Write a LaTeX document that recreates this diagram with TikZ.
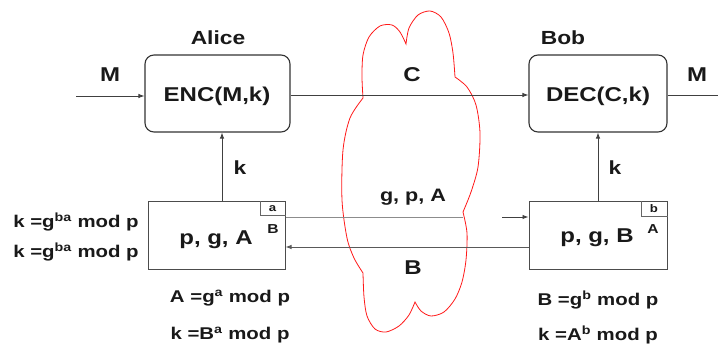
\documentclass[tikz,border=0pt]{standalone}
\usepackage{fontspec}
\setmainfont{Liberation Sans}[FakeStretch=1.2]
\usetikzlibrary{arrows.meta,calc}
\tikzset{
  lbl/.style={font=\bfseries\fontsize{#1}{#1}\selectfont, inner sep=0pt, text=black!90},
  lbl/.default=17,
  procbox/.style={draw=black!80, line width=1.1pt, rounded corners=9pt, minimum width=#1, minimum height=77pt, inner sep=0pt},
  keybox/.style={draw=black!70, line width=1pt, minimum width=#1, minimum height=68pt, inner sep=0pt},
  arr/.style={-{Latex[length=6pt,width=4.5pt]}, line width=0.9pt, draw=black!75},
  plain/.style={line width=0.9pt, draw=black!75},
  cloudline/.style={draw=red!90!white, line width=0.8pt}
}
\begin{document}
\begin{tikzpicture}[x=1pt,y=-1pt]
\useasboundingbox (0,0) rectangle (718,347);

% cloud
\draw[cloudline]
  plot[smooth] coordinates {(363,98) (362,77) (363,55) (369,37) (380,26) (392,25) (400,32) (406,44)}
  -- plot[smooth] coordinates {(406,44) (409,28) (418,15) (430,11) (441,17) (449,33) (453,53) (455,77)}
  -- plot[smooth] coordinates {(455,77) (467,87) (476,105) (480,133) (478,167) (471,192) (463,212)}
  -- plot[smooth] coordinates {(463,212) (467,233) (466,260) (462,282) (455,299) (444,312) (431,316) (421,311) (415,302)}
  -- plot[smooth] coordinates {(415,302) (409,315) (399,326) (386,332) (375,329) (367,316) (364,297) (363,273)}
  -- plot[smooth] coordinates {(363,273) (354,258) (347,238) (342,200) (343,150) (350,118) (363,98)};

% boxes
\node[procbox=145pt] (enc) at (217.5,93.5) {};
\node[procbox=138pt] (dec) at (598,93.5) {};
\node[keybox=137pt] (ka) at (216.5,236) {};
\node[keybox=138pt] (kb) at (598,236) {};

\node[lbl=20] (enctxt) at (217,96) {ENC(M,k)};
\node[lbl=20] (dectxt) at (598,96) {DEC(C,k)};
\node[lbl=19] (alice) at (218,38) {Alice};
\node[lbl=19] (bob) at (563,38) {Bob};

% corner boxes
\draw[line width=0.8pt, draw=black!60] (ka.north east) ++(-25,0) coordinate (ca) -- ++(0,14) -| (ka.east |- 0,216);
\draw[line width=0.8pt, draw=black!60] (kb.north east) ++(-26,0) coordinate (cb) -- ++(0,15) -| (kb.east |- 0,217);
\node[lbl=11] (sa) at (272.5,209) {a};
\node[lbl=13] (sB) at (273,229) {B};
\node[lbl=11] (sb) at (654,209) {b};
\node[lbl=13] (sA) at (653,229) {A};
\node[lbl=20] (pga) at (216,240) {p, g, A};
\node[lbl=20] (pgb) at (597,238) {p, g, B};

% coordinates
\coordinate (cy) at (0,95);
\coordinate (min) at (76,96);
\coordinate (mout) at (718,95);
\coordinate (kax) at (222,0);
\coordinate (kbx) at (598,0);
\coordinate (gy) at (0,217);
\coordinate (gend) at (463,217);
\coordinate (gstart) at (502,217);
\coordinate (by) at (0,247);

% connectors
\draw[arr] (min) -- (min -| enc.west);
\draw[arr] (enc.east |- cy) -- (dec.west |- cy);
\draw[plain] (dec.east |- cy) -- (mout);
\draw[arr] (ka.north -| kax) -- (enc.south -| kax);
\draw[arr] (kb.north -| kbx) -- (dec.south -| kbx);
\draw[line width=0.7pt, draw=black!45] (ka.east |- gy) -- (gend);
\draw[arr] (gstart) -- (kb.west |- gy);
\draw[arr, draw=black!65] (kb.west |- by) -- (ka.east |- by);

% labels
\node[lbl=20] (mleft) at (110,75) {M};
\node[lbl=20] (mright) at (697,75) {M};
\node[lbl=20] (clbl) at (412,75) {C};
\node[lbl=18] (gpa) at (413,197) {g, p, A};
\node[lbl=20] (blbl) at (413,268) {B};
\node[lbl=19] (kl) at (240,168) {k};
\node[lbl=19] (kr) at (615,168) {k};

\node[lbl] (l1) at (76,222) {k =g\textsuperscript{ba} mod p};
\node[lbl] (l2) at (76,252) {k =g\textsuperscript{ba} mod p};
\node[lbl] (l3) at (230,298) {A =g\textsuperscript{a} mod p};
\node[lbl] (l4) at (230,335) {k =B\textsuperscript{a} mod p};
\node[lbl] (r1) at (598,300) {B =g\textsuperscript{b} mod p};
\node[lbl] (r2) at (598,335) {k =A\textsuperscript{b} mod p};
\end{tikzpicture}
\end{document}
